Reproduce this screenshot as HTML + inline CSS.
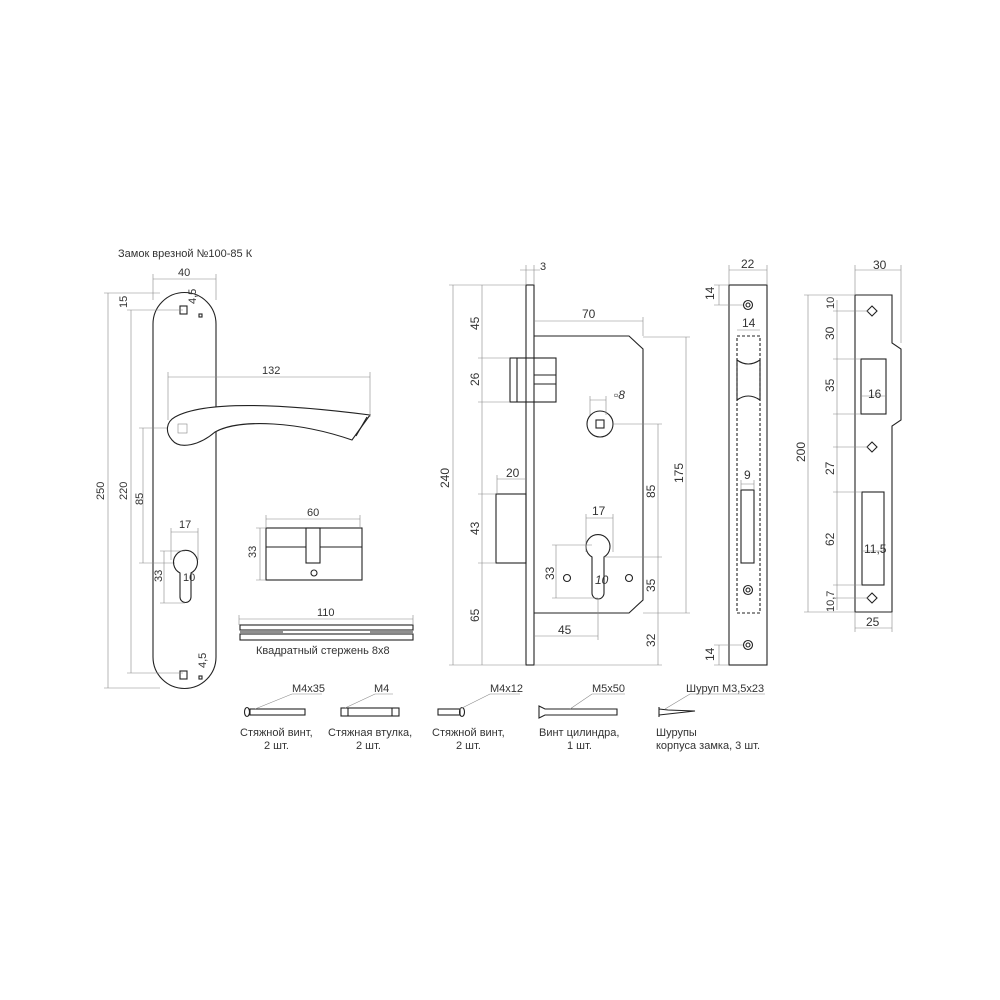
<!DOCTYPE html>
<html><head><meta charset="utf-8"><style>
html,body{margin:0;padding:0;background:#fff}
svg{display:block}
text{font-family:"Liberation Sans","DejaVu Sans",sans-serif;fill:#333;font-size:11px}
.d{stroke:#888;stroke-width:.6;fill:none}
.o{stroke:#222;stroke-width:1.1;fill:none}
.t{font-size:12px}
</style></head><body>
<svg width="1000" height="1000" viewBox="0 0 1000 1000" xmlns="http://www.w3.org/2000/svg">
<rect width="1000" height="1000" fill="#fff"/>
<text x="118" y="257" font-size="10.5">Замок врезной №100-85 К</text>

<!-- handle plate -->
<path class="o" d="M153,324 A31.5,31.5 0 0 1 216,324 L216,657 A31.5,31.5 0 0 1 153,657 Z"/>
<rect class="o" x="180" y="306" width="7" height="8"/><rect class="o" x="180" y="671" width="7" height="8"/>
<rect class="o" x="199" y="314" width="3" height="3"/><rect class="o" x="199" y="676" width="3" height="3"/>
<text x="196" y="304" font-size="9" transform="rotate(-90 196 304)">4,5</text>
<text x="206" y="668" font-size="9" transform="rotate(-90 206 668)">4,5</text>
<!-- dims handle -->
<path class="d" d="M153,279 L216,279 M153,274 L153,300 M216,274 L216,300"/><text x="178" y="276">40</text>
<path class="d" d="M108,293 L108,688 M104,293 L160,293 M104,688 L160,688"/><text x="104" y="500" transform="rotate(-90 104 500)">250</text>
<path class="d" d="M131,310 L131,673 M127,310 L183,310 M127,673 L183,673"/><text x="127" y="500" transform="rotate(-90 127 500)">220</text>
<text x="127" y="308" transform="rotate(-90 127 308)">15</text>
<path class="d" d="M143,428 L143,563 M139,428 L175,428 M139,563 L175,563"/><text x="143" y="505" transform="rotate(-90 143 505)">85</text>
<!-- handle lever -->
<path class="o" fill="#fff" d="M175,417 C200,403 260,401 370,415 L352,440 C300,422 240,418 215,432 C200,445 180,450 172,440 C165,432 166,422 175,417 Z" style="fill:#fff"/>
<path class="o" d="M356,436 L367,417"/>
<rect class="d" x="178" y="424" width="9" height="9"/>
<path class="d" d="M168,377 L370,377 M168,372 L168,420 M370,372 L370,417"/><text x="262" y="374">132</text>
<!-- cylinder hole -->
<path class="o" d="M180,573 A12,12 0 1 1 191,573 L191,597 A5.5,5.5 0 0 1 180,597 Z"/>
<path class="d" d="M171,532 L198,532 M171,528 L171,560 M198,528 L198,560"/><text x="179" y="528">17</text>
<path class="d" d="M164,551 L164,603 M160,551 L185,551 M160,603 L185,603"/><text x="162" y="582" transform="rotate(-90 162 582)">33</text>
<text x="183" y="581" font-size="10">10</text>

<!-- cylinder -->
<rect class="o" x="266" y="528" width="96" height="52"/>
<path class="o" d="M266,547 L306,547 M320,547 L362,547"/>
<rect class="o" x="306" y="528" width="14" height="35"/>
<circle class="o" cx="314" cy="573" r="3"/>
<path class="d" d="M266,519 L360,519 M266,515 L266,528 M360,515 L360,528"/><text x="307" y="516">60</text>
<path class="d" d="M260,528 L260,580 M256,528 L266,528 M256,580 L266,580"/><text x="256" y="558" transform="rotate(-90 256 558)">33</text>

<!-- rod -->
<rect class="o" x="240" y="625" width="173" height="5"/><rect class="o" x="240" y="634" width="173" height="6"/>
<path class="o" d="M240,632 L283,632 M370,632 L413,632"/>
<path class="d" d="M239,619 L413,619 M239,615 L239,625 M413,615 L413,625"/><text x="317" y="616">110</text>
<text x="256" y="654" font-size="11">Квадратный стержень 8х8</text>

<!-- lock body -->
<rect class="o" x="526" y="285" width="8" height="380"/>
<path class="o" d="M534,336 L629,336 L643,349 L643,600 L629,613 L534,613"/>
<rect class="o" x="510" y="358" width="46" height="44"/>
<path class="o" d="M534,375 L556,375 M534,384 L556,384 M517,358 L517,402"/>
<circle class="o" cx="600" cy="424" r="13"/><rect class="o" x="596" y="420" width="8" height="8"/>
<rect class="o" x="496" y="494" width="30" height="69"/>
<path class="o" d="M592,557 A12,12 0 1 1 604,557 L604,593 A6,6 0 0 1 592,593 Z"/>
<circle class="o" cx="567" cy="578" r="3.5"/><circle class="o" cx="629" cy="578" r="3.5"/>
<!-- lock dims -->
<path class="d" d="M453,285 L453,665 M449,285 L526,285 M449,665 L526,665"/><text x="449" y="488" transform="rotate(-90 449 488)" class="t">240</text>
<path class="d" d="M482,285 L482,665 M478,358 L510,358 M478,402 L510,402 M478,494 L496,494 M478,563 L496,563"/>
<text x="479" y="330" transform="rotate(-90 479 330)" class="t">45</text>
<text x="479" y="386" transform="rotate(-90 479 386)" class="t">26</text>
<text x="479" y="535" transform="rotate(-90 479 535)" class="t">43</text>
<text x="479" y="622" transform="rotate(-90 479 622)" class="t">65</text>
<path class="d" d="M534,321 L643,321 M643,317 L643,336"/><text x="582" y="318" class="t">70</text>
<path class="d" d="M497,479 L526,479 M497,475 L497,494"/><text x="506" y="477" class="t">20</text>
<path class="d" d="M590,396 L590,415 M606,396 L606,415 M590,400 L606,400"/><text x="614" y="399" class="t" font-style="italic">▫8</text>
<path class="d" d="M686,337 L686,613 M643,337 L690,337 M613,424 L662,424 M604,557 L662,557 M643,613 L690,613 M534,665 L662,665 M658,424 L658,665"/>
<text x="683" y="483" transform="rotate(-90 683 483)" class="t">175</text>
<text x="655" y="498" transform="rotate(-90 655 498)" class="t">85</text>
<text x="655" y="592" transform="rotate(-90 655 592)" class="t">35</text>
<text x="655" y="647" transform="rotate(-90 655 647)" class="t">32</text>
<path class="d" d="M586,518 L613,518 M586,514 L586,552 M613,514 L613,552"/><text x="592" y="515" class="t">17</text>
<path class="d" d="M556,545 L556,598 M552,545 L592,545 M552,598 L598,598"/><text x="554" y="580" transform="rotate(-90 554 580)" class="t">33</text>
<text x="595" y="584" class="t" font-style="italic">10</text>
<path class="d" d="M534,636 L598,636 M598,600 L598,640"/><text x="558" y="634" class="t">45</text>
<path class="d" d="M520,270 L540,270 M526,265 L526,285 M534,265 L534,285"/><text x="540" y="270" font-size="7">3</text>

<!-- faceplate front -->
<rect class="o" x="729" y="285" width="38" height="380"/>
<rect class="o" x="737" y="336" width="23" height="277" stroke-dasharray="3,2"/>
<path class="o" d="M737,360 Q748,368 760,360 L760,400 Q748,392 737,400 Z"/>
<rect class="o" x="741" y="490" width="13" height="73"/>
<circle class="o" cx="748" cy="305" r="4.5"/><circle class="o" cx="748" cy="305" r="2"/>
<circle class="o" cx="748" cy="590" r="4.5"/><circle class="o" cx="748" cy="590" r="2"/>
<circle class="o" cx="748" cy="645" r="4.5"/><circle class="o" cx="748" cy="645" r="2"/>
<path class="d" d="M729,270 L767,270 M729,265 L729,285 M767,265 L767,285"/><text x="741" y="268" class="t">22</text>
<path class="d" d="M714,285 L729,285 M714,305 L743,305 M719,285 L719,305 M714,645 L743,645 M714,665 L729,665 M719,645 L719,665"/>
<text x="714" y="300" transform="rotate(-90 714 300)" class="t">14</text>
<text x="714" y="661" transform="rotate(-90 714 661)" class="t">14</text>
<path class="d" d="M737,330 L760,330"/><text x="742" y="327" class="t">14</text>
<path class="d" d="M741,484 L754,484 M741,480 L741,490 M754,480 L754,490"/><text x="744" y="479" class="t">9</text>

<!-- strike plate -->
<path class="o" d="M855,295 L892,295 L892,343 L901,349 L901,420 L892,426 L892,612 L855,612 Z"/>
<rect class="o" x="861" y="359" width="25" height="55"/>
<rect class="o" x="862" y="492" width="22" height="93"/>
<path class="o" d="M872,306 L877,311 L872,316 L867,311 Z M872,442 L877,447 L872,452 L867,447 Z M872,593 L877,598 L872,603 L867,598 Z"/>
<path class="d" d="M808,295 L808,612 M804,295 L855,295 M804,612 L855,612 M837,300 L837,610 M833,311 L868,311 M833,359 L861,359 M833,414 L861,414 M833,447 L868,447 M833,492 L862,492 M833,585 L862,585 M833,598 L868,598"/>
<text x="805" y="462" transform="rotate(-90 805 462)" class="t">200</text>
<text x="834" y="309" transform="rotate(-90 834 309)" font-size="10.5">10</text>
<text x="834" y="340" transform="rotate(-90 834 340)" class="t">30</text>
<text x="834" y="392" transform="rotate(-90 834 392)" class="t">35</text>
<text x="834" y="475" transform="rotate(-90 834 475)" class="t">27</text>
<text x="834" y="546" transform="rotate(-90 834 546)" class="t">62</text>
<text x="834" y="612" transform="rotate(-90 834 612)" font-size="10.5">10,7</text>
<path class="d" d="M855,270 L901,270 M855,265 L855,295 M901,265 L901,343"/><text x="873" y="269" class="t">30</text>
<path class="d" d="M855,628 L892,628 M855,612 L855,632 M892,612 L892,632"/><text x="866" y="626" class="t">25</text>
<path class="d" d="M862,396 L886,396"/><text x="868" y="398" class="t">16</text>
<path class="d" d="M862,551 L884,551"/><text x="864" y="553" class="t">11,5</text>

<!-- screws -->
<g font-size="10.5">
<ellipse class="o" cx="247" cy="712" rx="2.5" ry="4.5"/><rect class="o" x="250" y="709" width="55" height="6"/>
<path class="d" d="M255,709 L292,694 L322,694"/><text x="292" y="692">M4x35</text>
<rect class="o" x="341" y="708" width="58" height="8"/><path class="o" d="M348,708 L348,716 M392,708 L392,716"/>
<path class="d" d="M345,708 L375,694 L393,694"/><text x="374" y="692">M4</text>
<rect class="o" x="438" y="709" width="22" height="6"/><ellipse class="o" cx="462" cy="712" rx="2.5" ry="4.5"/>
<path class="d" d="M460,709 L490,694 L520,694"/><text x="490" y="692">M4x12</text>
<path class="o" d="M539,706 L545,709 L617,709 L617,715 L545,715 L539,718 Z"/>
<path class="d" d="M570,709 L592,694 L625,694"/><text x="592" y="692">M5x50</text>
<path class="o" d="M659,707 L659,717 M659,709 L668,710 L695,711 L668,714 L659,715"/>
<path class="d" d="M665,709 L690,694 L765,694"/><text x="686" y="692">Шуруп М3,5х23</text>
<text x="240" y="736">Стяжной винт,</text><text x="264" y="749">2 шт.</text>
<text x="328" y="736">Стяжная втулка,</text><text x="356" y="749">2 шт.</text>
<text x="432" y="736">Стяжной винт,</text><text x="456" y="749">2 шт.</text>
<text x="539" y="736">Винт цилиндра,</text><text x="567" y="749">1 шт.</text>
<text x="656" y="736">Шурупы</text><text x="656" y="749">корпуса замка, 3 шт.</text>
</g>
</svg>
</body></html>
